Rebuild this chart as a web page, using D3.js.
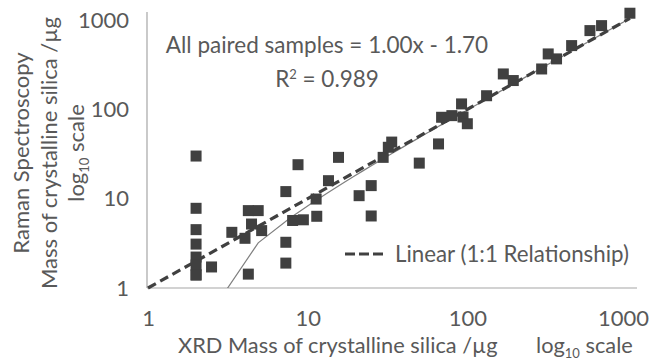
<!DOCTYPE html>
<html>
<head>
<meta charset="utf-8">
<script src="https://cdn.jsdelivr.net/npm/d3@7"></script>
<style>
  body { margin: 0; background: #fff; }
  text { font-family: Lato, "Open Sans", sans-serif; fill: #595959; }
</style>
</head>
<body>
<div id="chart"></div>
<script>
// XRD mass (x) vs Raman mass (y), both in µg
const xrd = [2, 2, 2, 2, 2, 2, 2, 2,
  2.5, 3.35, 4.05, 4.25, 4.25, 4.9, 4.45, 5.15,
  7.3, 7.3, 7.3, 8.7, 8.05, 9.4, 11.3, 11.4, 13.5, 15.6,
  21, 25, 25, 29.7, 32, 33.6, 50, 66, 69, 80, 92, 94, 100,
  132, 168, 194, 292, 321, 362, 450, 586, 693, 1043];
const raman = [30, 7.8, 4.5, 3.1, 2.22, 1.81, 1.4, 1.4,
  1.72, 4.2, 3.6, 1.43, 7.35, 7.35, 5.2, 4.39,
  12, 3.25, 1.9, 24, 5.7, 5.8, 9.9, 6.35, 15.9, 29,
  10.8, 14, 6.4, 29, 37.6, 43, 25, 41, 81.5, 85, 115, 82, 69,
  142, 249, 210, 283, 417, 367, 517, 761, 865, 1191];

const tickValues = [1, 10, 100, 1000];
const trendSlope = 1.00;
const trendIntercept = -1.70;
const trendStep = 2.9;
const oneToOne = [1, 1043];

const width = 651;
const height = 364;

const svg = d3.select("#chart")
    .append("svg")
    .attr("width", width)
    .attr("height", height);

const xScale = d3.scaleLog().domain([1, 1000]).range([148, 627]);
const yScale = d3.scaleLog().domain([1, 1000]).range([288, 20]);

// axis lines (Excel extends them a bit past 1000)
svg.append("line")
    .attr("x1", 147).attr("x2", 147)
    .attr("y1", 12).attr("y2", yScale(1))
    .attr("stroke", "#a6a6a6").attr("stroke-width", 1.2);
svg.append("line")
    .attr("x1", 147).attr("x2", 637)
    .attr("y1", yScale(1)).attr("y2", yScale(1))
    .attr("stroke", "#a6a6a6").attr("stroke-width", 1.2);

const xAxis = d3.axisBottom(xScale).tickValues(tickValues).tickFormat(d3.format("d")).tickSize(0).tickPadding(22);
const yAxis = d3.axisLeft(yScale).tickValues(tickValues).tickFormat(d3.format("d")).tickSize(0).tickPadding(19);

const gx = svg.append("g")
    .attr("transform", "translate(0," + yScale(1) + ")")
    .call(xAxis);
const gy = svg.append("g")
    .attr("transform", "translate(148,0)")
    .call(yAxis);
[gx, gy].forEach(g => {
    g.select(".domain").remove();
    g.selectAll("text").style("font-family", "Lato").style("font-size", "22px").attr("fill", "#595959");
});
// keep the last label inside the frame
gx.selectAll(".tick text").filter(d => d === 1000).attr("dx", -4);

svg.append("clipPath").attr("id", "plot")
    .append("rect").attr("x", 147).attr("y", 0).attr("width", 500).attr("height", yScale(1));

// linear trendline y = 1.00x - 1.70, drawn on log axes
const trendX = d3.range(2, 1043 + trendStep, trendStep);
const trendLine = d3.line()
    .x(d => xScale(d))
    .y(d => yScale(trendSlope * d + trendIntercept));
svg.append("path")
    .attr("d", trendLine(trendX))
    .attr("clip-path", "url(#plot)")
    .attr("fill", "none")
    .attr("stroke", "#7f7f7f")
    .attr("stroke-width", 1.2);

// 1:1 relationship
svg.append("line")
    .attr("x1", xScale(oneToOne[0])).attr("y1", yScale(oneToOne[0]))
    .attr("x2", xScale(oneToOne[1])).attr("y2", yScale(oneToOne[1]))
    .attr("stroke", "#404040")
    .attr("stroke-width", 3.2)
    .attr("stroke-dasharray", "9,5");

const size = 11;
svg.selectAll("rect.pt")
    .data(xrd)
    .enter()
    .append("rect")
    .attr("class", "pt")
    .attr("x", d => xScale(d) - size / 2)
    .attr("y", (d, i) => yScale(raman[i]) - size / 2)
    .attr("width", size)
    .attr("height", size)
    .attr("fill", "#404040");

// equation label
svg.append("text")
    .attr("x", 327).attr("y", 53)
    .attr("text-anchor", "middle")
    .style("font-size", "22.5px")
    .text("All paired samples  = 1.00x - 1.70");
const r2 = svg.append("text")
    .attr("x", 327).attr("y", 87)
    .attr("text-anchor", "middle")
    .style("font-size", "22.5px");
r2.append("tspan").text("R");
r2.append("tspan").attr("dy", -8).style("font-size", "13px").text("2");
r2.append("tspan").attr("dy", 8).text(" = 0.989");

// legend
svg.append("line")
    .attr("x1", 345).attr("x2", 387)
    .attr("y1", 254).attr("y2", 254)
    .attr("stroke", "#404040")
    .attr("stroke-width", 3.2)
    .attr("stroke-dasharray", "10,4");
svg.append("text")
    .attr("x", 395).attr("y", 262)
    .style("font-size", "22.3px")
    .text("Linear (1:1 Relationship)");

// x axis title
const xt = svg.append("text")
    .attr("x", 178).attr("y", 353)
    .style("font-size", "21.8px")
    .attr("xml:space", "preserve");
xt.append("tspan").text("XRD Mass of crystalline silica /µg");
xt.append("tspan").attr("x", 536).text("log");
xt.append("tspan").attr("dy", 5).style("font-size", "13px").text("10");
xt.append("tspan").attr("dy", -5).text(" scale");

// y axis title
const yt = svg.append("g")
    .attr("transform", "translate(0,153) rotate(-90)");
yt.append("text")
    .attr("x", 0).attr("y", 29)
    .attr("text-anchor", "middle")
    .style("font-size", "22px")
    .text("Raman Spectroscopy");
yt.append("text")
    .attr("x", 0).attr("y", 57)
    .attr("text-anchor", "middle")
    .style("font-size", "22px")
    .text("Mass of crystalline silica /µg");
const y3 = yt.append("text")
    .attr("x", 0).attr("y", 84)
    .attr("text-anchor", "middle")
    .style("font-size", "22px");
y3.append("tspan").text("log");
y3.append("tspan").attr("dy", 5).style("font-size", "13px").text("10");
y3.append("tspan").attr("dy", -5).text("  scale");
</script>
</body>
</html>
